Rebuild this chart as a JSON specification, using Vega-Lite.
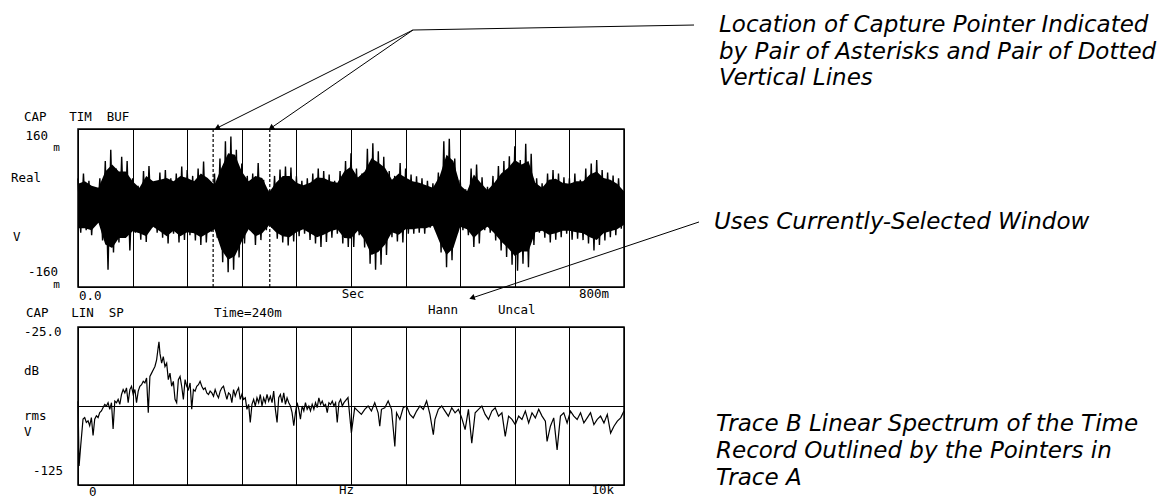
{
"$schema": "https://vega.github.io/schema/vega-lite/v6.json",
"background": "white",
"padding": {"left": 10, "top": 13, "right": 0, "bottom": 0},
"bounds": "flush",
"spacing": 40,
"config": {
  "view": {"stroke": "black", "strokeWidth": 1.5},
  "text": {"font": "DejaVu Sans Mono", "fontSize": 12.5, "color": "black", "baseline": "alphabetic", "align": "left"},
  "rule": {"color": "black"}
},
"datasets": {
  "timeRecord": [
{"t":0,"mV":60},{"t":0.004,"mV":-50},{"t":0.008,"mV":70},{"t":0.012,"mV":-45},{"t":0.016,"mV":55},{"t":0.02,"mV":-55},{"t":0.024,"mV":40},{"t":0.028,"mV":-30},{"t":0.032,"mV":60},{"t":0.036,"mV":-66},
{"t":0.04,"mV":95},{"t":0.044,"mV":-125},{"t":0.048,"mV":118},{"t":0.052,"mV":-90},{"t":0.056,"mV":80},{"t":0.06,"mV":-70},{"t":0.064,"mV":104},{"t":0.068,"mV":-60},{"t":0.072,"mV":95},{"t":0.076,"mV":-86},
{"t":0.08,"mV":60},{"t":0.084,"mV":-50},{"t":0.088,"mV":45},{"t":0.092,"mV":-64},{"t":0.096,"mV":75},{"t":0.1,"mV":-69},{"t":0.104,"mV":85},{"t":0.108,"mV":-40},{"t":0.112,"mV":38},{"t":0.116,"mV":-50},
{"t":0.12,"mV":72},{"t":0.124,"mV":-60},{"t":0.128,"mV":77},{"t":0.132,"mV":-72},{"t":0.136,"mV":60},{"t":0.14,"mV":-52},{"t":0.144,"mV":70},{"t":0.148,"mV":-70},{"t":0.152,"mV":84},{"t":0.156,"mV":-65},
{"t":0.16,"mV":77},{"t":0.164,"mV":-55},{"t":0.168,"mV":65},{"t":0.172,"mV":-66},{"t":0.176,"mV":80},{"t":0.18,"mV":-75},{"t":0.184,"mV":94},{"t":0.188,"mV":-70},{"t":0.192,"mV":40},{"t":0.196,"mV":-48},
{"t":0.2,"mV":70},{"t":0.204,"mV":-60},{"t":0.208,"mV":100},{"t":0.212,"mV":-110},{"t":0.216,"mV":135},{"t":0.22,"mV":-130},{"t":0.224,"mV":145},{"t":0.228,"mV":-125},{"t":0.232,"mV":118},{"t":0.236,"mV":-100},
{"t":0.24,"mV":90},{"t":0.244,"mV":-72},{"t":0.248,"mV":65},{"t":0.252,"mV":-45},{"t":0.256,"mV":70},{"t":0.26,"mV":-75},{"t":0.264,"mV":91},{"t":0.268,"mV":-65},{"t":0.272,"mV":57},{"t":0.276,"mV":-45},
{"t":0.28,"mV":36},{"t":0.284,"mV":-40},{"t":0.288,"mV":65},{"t":0.292,"mV":-62},{"t":0.296,"mV":78},{"t":0.3,"mV":-70},{"t":0.304,"mV":84},{"t":0.308,"mV":-76},{"t":0.312,"mV":82},{"t":0.316,"mV":-68},
{"t":0.32,"mV":64},{"t":0.324,"mV":-57},{"t":0.328,"mV":55},{"t":0.332,"mV":-52},{"t":0.336,"mV":60},{"t":0.34,"mV":-65},{"t":0.344,"mV":70},{"t":0.348,"mV":-72},{"t":0.352,"mV":80},{"t":0.356,"mV":-79},
{"t":0.36,"mV":75},{"t":0.364,"mV":-69},{"t":0.368,"mV":68},{"t":0.372,"mV":-60},{"t":0.376,"mV":55},{"t":0.38,"mV":-52},{"t":0.384,"mV":75},{"t":0.388,"mV":-72},{"t":0.392,"mV":95},{"t":0.396,"mV":-79},
{"t":0.4,"mV":111},{"t":0.404,"mV":-79},{"t":0.408,"mV":80},{"t":0.412,"mV":-55},{"t":0.416,"mV":70},{"t":0.42,"mV":-80},{"t":0.424,"mV":120},{"t":0.428,"mV":-113},{"t":0.432,"mV":131},{"t":0.436,"mV":-125},
{"t":0.44,"mV":115},{"t":0.444,"mV":-115},{"t":0.448,"mV":104},{"t":0.452,"mV":-95},{"t":0.456,"mV":75},{"t":0.46,"mV":-59},{"t":0.464,"mV":65},{"t":0.468,"mV":-68},{"t":0.472,"mV":91},{"t":0.476,"mV":-70},
{"t":0.48,"mV":80},{"t":0.484,"mV":-52},{"t":0.488,"mV":68},{"t":0.492,"mV":-52},{"t":0.496,"mV":64},{"t":0.5,"mV":-50},{"t":0.504,"mV":60},{"t":0.508,"mV":-52},{"t":0.512,"mV":55},{"t":0.516,"mV":-40},
{"t":0.52,"mV":50},{"t":0.524,"mV":-45},{"t":0.528,"mV":72},{"t":0.532,"mV":-90},{"t":0.536,"mV":135},{"t":0.54,"mV":-120},{"t":0.544,"mV":140},{"t":0.548,"mV":-106},{"t":0.552,"mV":100},{"t":0.556,"mV":-50},
{"t":0.56,"mV":57},{"t":0.564,"mV":-45},{"t":0.568,"mV":38},{"t":0.572,"mV":-55},{"t":0.576,"mV":80},{"t":0.58,"mV":-79},{"t":0.584,"mV":88},{"t":0.588,"mV":-72},{"t":0.592,"mV":62},{"t":0.596,"mV":-45},
{"t":0.6,"mV":43},{"t":0.604,"mV":-50},{"t":0.608,"mV":65},{"t":0.612,"mV":-66},{"t":0.616,"mV":85},{"t":0.62,"mV":-86},{"t":0.624,"mV":95},{"t":0.628,"mV":-99},{"t":0.632,"mV":105},{"t":0.636,"mV":-115},
{"t":0.64,"mV":125},{"t":0.644,"mV":-127},{"t":0.648,"mV":97},{"t":0.652,"mV":-113},{"t":0.656,"mV":130},{"t":0.66,"mV":-120},{"t":0.664,"mV":110},{"t":0.668,"mV":-75},{"t":0.672,"mV":60},{"t":0.676,"mV":-50},
{"t":0.68,"mV":50},{"t":0.684,"mV":-60},{"t":0.688,"mV":70},{"t":0.692,"mV":-70},{"t":0.696,"mV":77},{"t":0.7,"mV":-64},{"t":0.704,"mV":70},{"t":0.708,"mV":-59},{"t":0.712,"mV":62},{"t":0.716,"mV":-52},
{"t":0.72,"mV":60},{"t":0.724,"mV":-64},{"t":0.728,"mV":70},{"t":0.732,"mV":-62},{"t":0.736,"mV":57},{"t":0.74,"mV":-65},{"t":0.744,"mV":80},{"t":0.748,"mV":-72},{"t":0.752,"mV":90},{"t":0.756,"mV":-86},
{"t":0.76,"mV":97},{"t":0.764,"mV":-75},{"t":0.768,"mV":77},{"t":0.772,"mV":-66},{"t":0.776,"mV":72},{"t":0.78,"mV":-59},{"t":0.784,"mV":66},{"t":0.788,"mV":-55},{"t":0.792,"mV":60},{"t":0.796,"mV":-42},
{"t":0.8,"mV":30}
  ],
  "denseCore": [
{"t":0,"hi":49,"lo":-41},{"t":0.01,"hi":54,"lo":-41},{"t":0.02,"hi":45,"lo":-45},{"t":0.03,"hi":41,"lo":-30},{"t":0.04,"hi":74,"lo":-74},{"t":0.05,"hi":88,"lo":-81},{"t":0.06,"hi":74,"lo":-61},{"t":0.07,"hi":74,"lo":-61},{"t":0.08,"hi":54,"lo":-47},{"t":0.09,"hi":41,"lo":-51},
{"t":0.1,"hi":65,"lo":-57},{"t":0.11,"hi":54,"lo":-38},{"t":0.12,"hi":57,"lo":-47},{"t":0.13,"hi":61,"lo":-57},{"t":0.14,"hi":54,"lo":-46},{"t":0.15,"hi":65,"lo":-57},{"t":0.16,"hi":61,"lo":-49},{"t":0.17,"hi":54,"lo":-51},{"t":0.18,"hi":70,"lo":-59},{"t":0.19,"hi":61,"lo":-51},
{"t":0.2,"hi":47,"lo":-43},{"t":0.21,"hi":81,"lo":-84},{"t":0.22,"hi":111,"lo":-105},{"t":0.23,"hi":108,"lo":-97},{"t":0.24,"hi":74,"lo":-68},{"t":0.25,"hi":54,"lo":-43},{"t":0.26,"hi":65,"lo":-57},{"t":0.27,"hi":61,"lo":-51},{"t":0.28,"hi":32,"lo":-35},{"t":0.29,"hi":51,"lo":-49},
{"t":0.3,"hi":65,"lo":-57},{"t":0.31,"hi":65,"lo":-59},{"t":0.32,"hi":51,"lo":-49},{"t":0.33,"hi":46,"lo":-43},{"t":0.34,"hi":51,"lo":-51},{"t":0.35,"hi":62,"lo":-59},{"t":0.36,"hi":61,"lo":-54},{"t":0.37,"hi":54,"lo":-47},{"t":0.38,"hi":51,"lo":-43},{"t":0.39,"hi":74,"lo":-61},
{"t":0.4,"hi":84,"lo":-62},{"t":0.41,"hi":62,"lo":-46},{"t":0.42,"hi":74,"lo":-65},{"t":0.43,"hi":101,"lo":-95},{"t":0.44,"hi":92,"lo":-89},{"t":0.45,"hi":81,"lo":-74},{"t":0.46,"hi":57,"lo":-49},{"t":0.47,"hi":70,"lo":-54},{"t":0.48,"hi":62,"lo":-43},{"t":0.49,"hi":54,"lo":-43},
{"t":0.5,"hi":51,"lo":-41},{"t":0.51,"hi":46,"lo":-41},{"t":0.52,"hi":41,"lo":-36},{"t":0.53,"hi":65,"lo":-70},{"t":0.54,"hi":108,"lo":-95},{"t":0.55,"hi":95,"lo":-81},{"t":0.56,"hi":46,"lo":-38},{"t":0.57,"hi":34,"lo":-43},{"t":0.58,"hi":68,"lo":-61},{"t":0.59,"hi":51,"lo":-47},
{"t":0.6,"hi":36,"lo":-38},{"t":0.61,"hi":51,"lo":-51},{"t":0.62,"hi":70,"lo":-68},{"t":0.63,"hi":81,"lo":-81},{"t":0.64,"hi":97,"lo":-97},{"t":0.65,"hi":88,"lo":-88},{"t":0.66,"hi":95,"lo":-88},{"t":0.67,"hi":51,"lo":-49},{"t":0.68,"hi":41,"lo":-46},{"t":0.69,"hi":57,"lo":-54},
{"t":0.7,"hi":59,"lo":-51},{"t":0.71,"hi":51,"lo":-46},{"t":0.72,"hi":49,"lo":-46},{"t":0.73,"hi":54,"lo":-49},{"t":0.74,"hi":54,"lo":-51},{"t":0.75,"hi":68,"lo":-59},{"t":0.76,"hi":74,"lo":-65},{"t":0.77,"hi":61,"lo":-51},{"t":0.78,"hi":57,"lo":-47},{"t":0.79,"hi":49,"lo":-43},
{"t":0.8,"hi":34,"lo":-34}
  ],
  "spectrum": [
{"f":0,"dB":-72},{"f":20,"dB":-113},{"f":50,"dB":-100},{"f":92,"dB":-83.3},{"f":123,"dB":-82.3},{"f":153,"dB":-85.4},{"f":184,"dB":-84.4},{"f":214,"dB":-87.5},{"f":245,"dB":-82.3},{"f":276,"dB":-93.7},
{"f":306,"dB":-83.3},{"f":337,"dB":-81.2},{"f":368,"dB":-82.3},{"f":398,"dB":-79.2},{"f":429,"dB":-78.1},{"f":460,"dB":-76},{"f":490,"dB":-74},{"f":521,"dB":-75},{"f":551,"dB":-72.9},{"f":582,"dB":-77.1},
{"f":613,"dB":-72.9},{"f":643,"dB":-89.6},{"f":674,"dB":-71.9},{"f":705,"dB":-72.9},{"f":735,"dB":-70.8},{"f":766,"dB":-74},{"f":797,"dB":-67.7},{"f":827,"dB":-64.6},{"f":858,"dB":-66.7},{"f":888,"dB":-63.5},
{"f":919,"dB":-72.9},{"f":950,"dB":-64.6},{"f":980,"dB":-62.5},{"f":1011,"dB":-67.7},{"f":1042,"dB":-64.6},{"f":1072,"dB":-72.9},{"f":1103,"dB":-65.6},{"f":1133,"dB":-62.5},{"f":1164,"dB":-61.5},{"f":1195,"dB":-59.4},
{"f":1225,"dB":-60.4},{"f":1256,"dB":-57.3},{"f":1287,"dB":-79.2},{"f":1317,"dB":-56.3},{"f":1348,"dB":-54.2},{"f":1379,"dB":-52.1},{"f":1409,"dB":-50},{"f":1440,"dB":-45.8},{"f":1470,"dB":-37.5},{"f":1483,"dB":-34.4},
{"f":1501,"dB":-41.7},{"f":1532,"dB":-47.9},{"f":1562,"dB":-43.8},{"f":1593,"dB":-50},{"f":1624,"dB":-47.9},{"f":1654,"dB":-58.3},{"f":1685,"dB":-54.2},{"f":1715,"dB":-62.5},{"f":1746,"dB":-59.4},{"f":1777,"dB":-70.8},
{"f":1807,"dB":-72.9},{"f":1838,"dB":-58.3},{"f":1869,"dB":-56.3},{"f":1899,"dB":-62.5},{"f":1930,"dB":-70.8},{"f":1961,"dB":-58.3},{"f":1991,"dB":-62.5},{"f":2022,"dB":-64.6},{"f":2053,"dB":-60.4},{"f":2083,"dB":-77.1},
{"f":2114,"dB":-64.6},{"f":2144,"dB":-65.6},{"f":2175,"dB":-62.5},{"f":2206,"dB":-61.5},{"f":2236,"dB":-59.4},{"f":2267,"dB":-62.5},{"f":2298,"dB":-64.6},{"f":2328,"dB":-63.5},{"f":2359,"dB":-66.7},{"f":2390,"dB":-67.7},
{"f":2420,"dB":-65.6},{"f":2451,"dB":-66.7},{"f":2482,"dB":-68.8},{"f":2512,"dB":-64.6},{"f":2543,"dB":-67.7},{"f":2573,"dB":-69.8},{"f":2604,"dB":-65.6},{"f":2635,"dB":-63.5},{"f":2665,"dB":-62.5},{"f":2696,"dB":-66.7},
{"f":2727,"dB":-70.8},{"f":2757,"dB":-66.7},{"f":2788,"dB":-67.7},{"f":2818,"dB":-72.9},{"f":2849,"dB":-64.6},{"f":2880,"dB":-68.8},{"f":2910,"dB":-65.6},{"f":2941,"dB":-63.5},{"f":2972,"dB":-70.8},{"f":3002,"dB":-67.7},
{"f":3033,"dB":-70.8},{"f":3064,"dB":-69.8},{"f":3094,"dB":-77.1},{"f":3125,"dB":-74},{"f":3155,"dB":-85.4},{"f":3186,"dB":-74},{"f":3217,"dB":-70.8},{"f":3247,"dB":-75},{"f":3278,"dB":-69.8},{"f":3309,"dB":-72.9},
{"f":3339,"dB":-67.7},{"f":3370,"dB":-75},{"f":3400,"dB":-69.8},{"f":3431,"dB":-72.9},{"f":3462,"dB":-67.7},{"f":3492,"dB":-71.9},{"f":3523,"dB":-68.8},{"f":3554,"dB":-72.9},{"f":3584,"dB":-65.6},{"f":3615,"dB":-77.1},
{"f":3646,"dB":-85.4},{"f":3676,"dB":-69.8},{"f":3707,"dB":-67.7},{"f":3737,"dB":-72.9},{"f":3768,"dB":-66.7},{"f":3799,"dB":-74},{"f":3829,"dB":-69.8},{"f":3860,"dB":-72.9},{"f":3891,"dB":-75},{"f":3921,"dB":-79.2},
{"f":3952,"dB":-87.5},{"f":3982,"dB":-79.2},{"f":4013,"dB":-72.9},{"f":4044,"dB":-77.1},{"f":4074,"dB":-83.3},{"f":4105,"dB":-75},{"f":4136,"dB":-78.1},{"f":4166,"dB":-72.9},{"f":4197,"dB":-77.1},{"f":4228,"dB":-75},
{"f":4258,"dB":-78.1},{"f":4289,"dB":-74},{"f":4320,"dB":-77.1},{"f":4350,"dB":-72.9},{"f":4381,"dB":-76},{"f":4411,"dB":-69.8},{"f":4442,"dB":-74},{"f":4473,"dB":-71.9},{"f":4503,"dB":-75},{"f":4534,"dB":-74},
{"f":4565,"dB":-79.2},{"f":4595,"dB":-72.9},{"f":4626,"dB":-74},{"f":4657,"dB":-71.9},{"f":4687,"dB":-75},{"f":4718,"dB":-72.9},{"f":4748,"dB":-85.4},{"f":4779,"dB":-72.9},{"f":4810,"dB":-70.8},{"f":4840,"dB":-75},
{"f":4871,"dB":-72.9},{"f":4945,"dB":-69.7},{"f":5007,"dB":-92.1},{"f":5068,"dB":-76.1},{"f":5129,"dB":-78.2},{"f":5190,"dB":-80.3},{"f":5252,"dB":-77.1},{"f":5313,"dB":-75},{"f":5374,"dB":-78.2},{"f":5435,"dB":-72.9},
{"f":5497,"dB":-79.3},{"f":5527,"dB":-87.8},{"f":5558,"dB":-77.1},{"f":5619,"dB":-76.1},{"f":5681,"dB":-71.8},{"f":5742,"dB":-77.1},{"f":5803,"dB":-100.6},{"f":5834,"dB":-79.3},{"f":5895,"dB":-83.5},{"f":5956,"dB":-76.1},
{"f":6017,"dB":-75},{"f":6079,"dB":-80.3},{"f":6140,"dB":-82.5},{"f":6201,"dB":-78.2},{"f":6263,"dB":-75},{"f":6324,"dB":-77.1},{"f":6385,"dB":-71.8},{"f":6446,"dB":-80.3},{"f":6508,"dB":-93.2},{"f":6538,"dB":-83.5},
{"f":6600,"dB":-77.1},{"f":6661,"dB":-75},{"f":6722,"dB":-78.2},{"f":6783,"dB":-81.4},{"f":6845,"dB":-76.1},{"f":6906,"dB":-79.3},{"f":6967,"dB":-77.1},{"f":7028,"dB":-82.5},{"f":7090,"dB":-90},{"f":7151,"dB":-77.1},
{"f":7212,"dB":-98.5},{"f":7274,"dB":-79.3},{"f":7335,"dB":-77.1},{"f":7396,"dB":-75},{"f":7457,"dB":-80.3},{"f":7519,"dB":-83.5},{"f":7580,"dB":-78.2},{"f":7641,"dB":-76.1},{"f":7702,"dB":-81.4},{"f":7764,"dB":-79.3},
{"f":7825,"dB":-94.2},{"f":7886,"dB":-81.4},{"f":7948,"dB":-83.5},{"f":8009,"dB":-86.8},{"f":8070,"dB":-81.4},{"f":8131,"dB":-83.5},{"f":8193,"dB":-78.2},{"f":8254,"dB":-85.7},{"f":8315,"dB":-79.3},{"f":8376,"dB":-82.5},
{"f":8438,"dB":-77.1},{"f":8499,"dB":-81.4},{"f":8560,"dB":-84.6},{"f":8591,"dB":-97.4},{"f":8652,"dB":-87.8},{"f":8713,"dB":-82.5},{"f":8775,"dB":-102.8},{"f":8836,"dB":-81.4},{"f":8897,"dB":-79.3},{"f":8958,"dB":-85.7},
{"f":9020,"dB":-78.2},{"f":9081,"dB":-81.4},{"f":9142,"dB":-83.5},{"f":9204,"dB":-79.3},{"f":9265,"dB":-85.7},{"f":9326,"dB":-82.5},{"f":9387,"dB":-79.3},{"f":9449,"dB":-86.8},{"f":9510,"dB":-83.5},{"f":9571,"dB":-81.4},
{"f":9633,"dB":-85.7},{"f":9694,"dB":-80.3},{"f":9755,"dB":-92.1},{"f":9816,"dB":-87.8},{"f":9878,"dB":-84.6},{"f":9939,"dB":-82.5},{"f":10000,"dB":-78.2}
  ]
},
"vconcat": [
{
  "width": 546, "height": 158,
  "layer": [
    {
      "data": {"name": "denseCore"},
      "mark": {"type": "area", "color": "black", "opacity": 1},
      "encoding": {
        "x": {"field": "t", "type": "quantitative", "scale": {"domain": [0, 0.8], "nice": false, "zero": false},
              "axis": {"values": [0,0.08,0.16,0.24,0.32,0.4,0.48,0.56,0.64,0.72,0.8], "grid": true, "gridColor": "black", "gridOpacity": 1, "gridWidth": 1, "labels": false, "ticks": false, "domain": false, "title": null}},
        "y": {"field": "hi", "type": "quantitative", "scale": {"domain": [-160, 160], "nice": false, "zero": false},
              "axis": {"values": [-160,-80,0,80,160], "grid": true, "gridColor": "black", "gridOpacity": 1, "gridWidth": 1, "labels": false, "ticks": false, "domain": false, "title": null}},
        "y2": {"field": "lo"}
      }
    },
    {
      "data": {"name": "timeRecord"},
      "mark": {"type": "line", "color": "black", "strokeWidth": 1.4},
      "encoding": {
        "x": {"field": "t", "type": "quantitative"},
        "y": {"field": "mV", "type": "quantitative"}
      }
    },
    {"data": {"values": [{}]}, "mark": {"type": "rule", "strokeDash": [3, 2], "strokeWidth": 1.2}, "encoding": {"x": {"datum": 0.198}}},
    {"data": {"values": [{}]}, "mark": {"type": "rule", "strokeDash": [3, 2], "strokeWidth": 1.2}, "encoding": {"x": {"datum": 0.281}}},

    {"data": {"values": [{}]}, "mark": {"type": "text", "text": "CAP\u00a0\u00a0\u00a0TIM\u00a0\u00a0BUF", "clip": false}, "encoding": {"x": {"datum": -0.0791}, "y": {"datum": 176.2}}},
    {"data": {"values": [{}]}, "mark": {"type": "text", "text": "160", "align": "right", "clip": false}, "encoding": {"x": {"datum": -0.044}, "y": {"datum": 137.7}}},
    {"data": {"values": [{}]}, "mark": {"type": "text", "text": "m", "align": "right", "fontSize": 11, "clip": false}, "encoding": {"x": {"datum": -0.0264}, "y": {"datum": 115.5}}},
    {"data": {"values": [{}]}, "mark": {"type": "text", "text": "Real", "clip": false}, "encoding": {"x": {"datum": -0.0982}, "y": {"datum": 52.7}}},
    {"data": {"values": [{}]}, "mark": {"type": "text", "text": "V", "clip": false}, "encoding": {"x": {"datum": -0.0952}, "y": {"datum": -66.8}}},
    {"data": {"values": [{}]}, "mark": {"type": "text", "text": "-160", "align": "right", "clip": false}, "encoding": {"x": {"datum": -0.0293}, "y": {"datum": -137.7}}},
    {"data": {"values": [{}]}, "mark": {"type": "text", "text": "m", "align": "right", "fontSize": 11, "clip": false}, "encoding": {"x": {"datum": -0.0264}, "y": {"datum": -162}}},
    {"data": {"values": [{}]}, "mark": {"type": "text", "text": "0.0", "clip": false}, "encoding": {"x": {"datum": 0.0015}, "y": {"datum": -186.3}}},
    {"data": {"values": [{}]}, "mark": {"type": "text", "text": "Sec", "align": "center", "clip": false}, "encoding": {"x": {"datum": 0.4029}, "y": {"datum": -182.2}}},
    {"data": {"values": [{}]}, "mark": {"type": "text", "text": "800m", "align": "right", "clip": false}, "encoding": {"x": {"datum": 0.778}, "y": {"datum": -182.2}}},

    {"data": {"values": [{}]}, "mark": {"type": "rule", "strokeWidth": 1, "clip": false}, "encoding": {"x": {"datum": 0.4908}, "y": {"datum": 360.5}, "x2": {"datum": 0.9026}, "y2": {"datum": 370.6}}},
    {"data": {"values": [{}]}, "mark": {"type": "rule", "strokeWidth": 1, "clip": false}, "encoding": {"x": {"datum": 0.4908}, "y": {"datum": 360.5}, "x2": {"datum": 0.2037}, "y2": {"datum": 162}}},
    {"data": {"values": [{}]}, "mark": {"type": "rule", "strokeWidth": 1, "clip": false}, "encoding": {"x": {"datum": 0.4908}, "y": {"datum": 360.5}, "x2": {"datum": 0.2828}, "y2": {"datum": 162}}},
    {"data": {"values": [{}]}, "mark": {"type": "rule", "strokeWidth": 1, "clip": false}, "encoding": {"x": {"datum": 0.9099}, "y": {"datum": -28.3}, "x2": {"datum": 0.5773}, "y2": {"datum": -182.2}}},
    {"data": {"values": [{}]}, "mark": {"type": "point", "shape": "triangle-up", "filled": true, "color": "black", "opacity": 1, "size": 40, "angle": 243.5, "clip": false}, "encoding": {"x": {"datum": 0.2037}, "y": {"datum": 162}}},
    {"data": {"values": [{}]}, "mark": {"type": "point", "shape": "triangle-up", "filled": true, "color": "black", "opacity": 1, "size": 40, "angle": 235.4, "clip": false}, "encoding": {"x": {"datum": 0.2828}, "y": {"datum": 162}}},
    {"data": {"values": [{}]}, "mark": {"type": "point", "shape": "triangle-up", "filled": true, "color": "black", "opacity": 1, "size": 40, "angle": 251.5, "clip": false}, "encoding": {"x": {"datum": 0.5773}, "y": {"datum": -182.2}}},

    {"data": {"values": [{}]}, "mark": {"type": "text", "text": ["Location of Capture Pointer Indicated", "by Pair of Asterisks and Pair of Dotted", "Vertical Lines"], "font": "DejaVu Sans", "fontStyle": "italic", "fontSize": 23, "lineHeight": 26.5, "clip": false}, "encoding": {"x": {"datum": 0.9392}, "y": {"datum": 356.4}}},
    {"data": {"values": [{}]}, "mark": {"type": "text", "text": "Uses Currently-Selected Window", "font": "DejaVu Sans", "fontStyle": "italic", "fontSize": 23, "clip": false}, "encoding": {"x": {"datum": 0.9319}, "y": {"datum": -42.5}}}
  ]
},
{
  "width": 546, "height": 158,
  "layer": [
    {
      "data": {"name": "spectrum"},
      "mark": {"type": "line", "color": "black", "strokeWidth": 1.2},
      "encoding": {
        "x": {"field": "f", "type": "quantitative", "scale": {"domain": [0, 10000], "nice": false, "zero": false},
              "axis": {"values": [0,1000,2000,3000,4000,5000,6000,7000,8000,9000,10000], "grid": true, "gridColor": "black", "gridOpacity": 1, "gridWidth": 1, "labels": false, "ticks": false, "domain": false, "title": null}},
        "y": {"field": "dB", "type": "quantitative", "scale": {"domain": [-125, -25], "nice": false, "zero": false},
              "axis": {"values": [-125,-100,-75,-50,-25], "grid": true, "gridColor": "black", "gridOpacity": 1, "gridWidth": 1, "labels": false, "ticks": false, "domain": false, "title": null}}
      }
    },
    {"data": {"values": [{}]}, "mark": {"type": "text", "text": "CAP\u00a0\u00a0\u00a0LIN\u00a0\u00a0SP", "clip": false}, "encoding": {"x": {"datum": -952}, "y": {"datum": -18.7}}},
    {"data": {"values": [{}]}, "mark": {"type": "text", "text": "Time=240m", "clip": false}, "encoding": {"x": {"datum": 2491}, "y": {"datum": -18.7}}},
    {"data": {"values": [{}]}, "mark": {"type": "text", "text": "Hann", "clip": false}, "encoding": {"x": {"datum": 6410}, "y": {"datum": -16.8}}},
    {"data": {"values": [{}]}, "mark": {"type": "text", "text": "Uncal", "clip": false}, "encoding": {"x": {"datum": 7692}, "y": {"datum": -16.8}}},
    {"data": {"values": [{}]}, "mark": {"type": "text", "text": "-25.0", "clip": false}, "encoding": {"x": {"datum": -989}, "y": {"datum": -30.7}}},
    {"data": {"values": [{}]}, "mark": {"type": "text", "text": "dB", "clip": false}, "encoding": {"x": {"datum": -989}, "y": {"datum": -55.4}}},
    {"data": {"values": [{}]}, "mark": {"type": "text", "text": "rms", "clip": false}, "encoding": {"x": {"datum": -989}, "y": {"datum": -83.9}}},
    {"data": {"values": [{}]}, "mark": {"type": "text", "text": "V", "clip": false}, "encoding": {"x": {"datum": -989}, "y": {"datum": -94}}},
    {"data": {"values": [{}]}, "mark": {"type": "text", "text": "-125", "clip": false}, "encoding": {"x": {"datum": -824}, "y": {"datum": -118.7}}},
    {"data": {"values": [{}]}, "mark": {"type": "text", "text": "0", "clip": false}, "encoding": {"x": {"datum": 201}, "y": {"datum": -132}}},
    {"data": {"values": [{}]}, "mark": {"type": "text", "text": "Hz", "clip": false}, "encoding": {"x": {"datum": 4780}, "y": {"datum": -130.7}}},
    {"data": {"values": [{}]}, "mark": {"type": "text", "text": "10k", "align": "right", "clip": false}, "encoding": {"x": {"datum": 9817}, "y": {"datum": -130.7}}},
    {"data": {"values": [{}]}, "mark": {"type": "text", "text": ["Trace B Linear Spectrum of the Time", "Record Outlined by the Pointers in", "Trace A"], "font": "DejaVu Sans", "fontStyle": "italic", "fontSize": 23, "lineHeight": 27, "clip": false}, "encoding": {"x": {"datum": 11685}, "y": {"datum": -90.8}}}
  ]
}
]
}
